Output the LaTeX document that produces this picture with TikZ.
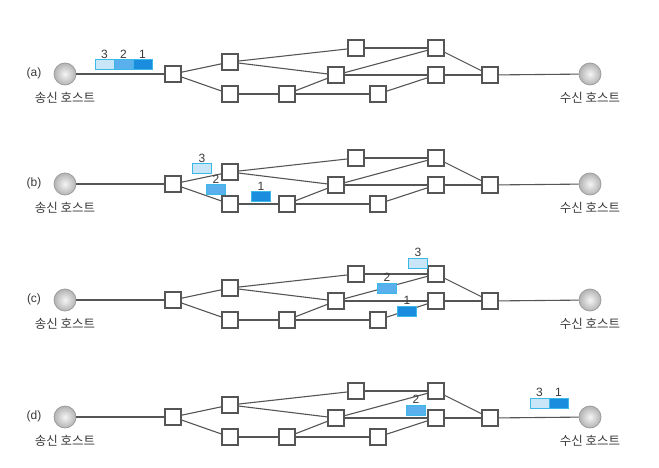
\documentclass[tikz,border=0pt]{standalone}
\usepackage{fontspec}
\setmainfont{Liberation Sans}
\newfontfamily\krfont{Noto Sans CJK KR}
\usepackage{xcolor}
\usetikzlibrary{positioning}
\definecolor{linegray}{HTML}{555555}
\definecolor{txtgray}{HTML}{3A3A3A}
\definecolor{pktedge}{HTML}{3CB8E8}
\definecolor{pktlight}{HTML}{C8E6F8}
\definecolor{pktmid}{HTML}{5AB0EC}
\definecolor{pktdark}{HTML}{1A8DDF}

\begin{document}
\begin{tikzpicture}[x=1pt, y=-1pt,
    router/.style={draw=linegray, line width=1.1pt, fill=white, minimum size=16pt, inner sep=0pt},
    host/.style={circle, draw=gray!80, line width=0.7pt, shading=radial, inner color=gray!8,
                 outer color=gray!60, minimum size=22pt, inner sep=0pt},
    link/.style={linegray, line width=1.1pt},
    pkt/.style={draw=pktedge, line width=1pt, minimum width=19pt, minimum height=10pt,
                inner sep=0pt, outer sep=0pt},
    num/.style={font=\fontsize{12}{12}\selectfont, text=txtgray, inner sep=0.5pt},
    hostlbl/.style={font=\krfont\fontsize{12.5}{12.5}\selectfont, text=txtgray, inner sep=1pt},
    rowlbl/.style={font=\fontsize{12}{12}\selectfont, text=txtgray, inner sep=1pt}]
  \useasboundingbox[fill=white] (0,0) rectangle (659,468);
  % one network per row
  \foreach \row/\y in {a/74, b/184, c/300, d/417} {
    \node[rowlbl] (l\row) at (34,\y-1) {(\row)};
    \node[host] (s\row) at (65,\y) {};
    \node[host] (t\row) at (590,\y) {};
    \node[hostlbl, below=6pt of s\row] (ls\row) {송신 호스트};
    \node[hostlbl, below=6pt of t\row] (lt\row) {수신 호스트};
    \node[router] (r1\row) at (173,\y) {};
    \node[router] (r2\row) at (230,\y-12) {};
    \node[router] (r3\row) at (230,\y+20) {};
    \node[router] (r4\row) at (287,\y+20) {};
    \node[router] (r5\row) at (336,\y+1) {};
    \node[router] (r6\row) at (356,\y-26) {};
    \node[router] (r7\row) at (436,\y-26) {};
    \node[router] (r8\row) at (436,\y+1) {};
    \node[router] (r9\row) at (378,\y+20) {};
    \node[router] (r10\row) at (490,\y+1) {};
    \draw[link] (s\row) -- (r1\row);
    \draw[link] (r1\row) -- (r2\row);
    \draw[link] (r1\row) -- (r3\row);
    \draw[link] (r2\row) -- (r6\row);
    \draw[link] (r2\row) -- (r5\row);
    \draw[link] (r3\row) -- (r4\row);
    \draw[link] (r4\row) -- (r5\row);
    \draw[link] (r4\row) -- (r9\row);
    \draw[link] (r5\row) -- (r7\row);
    \draw[link] (r5\row) -- (r8\row);
    \draw[link] (r6\row) -- (r7\row);
    \draw[link] (r9\row) -- (r8\row);
    \draw[link] (r7\row) -- (r10\row);
    \draw[link] (r8\row) -- (r10\row);
    \draw[link] (r10\row) -- (t\row);
  }
  % (a) packets leave the sender
  \node[pkt, fill=pktlight] (pa3) at (104.5,65) {};
  \node[pkt, fill=pktmid, right=0pt of pa3] (pa2) {};
  \node[pkt, fill=pktdark, right=0pt of pa2] (pa1) {};
  \node[num, above=1pt of pa3] (na3) {3};
  \node[num, above=1pt of pa2] (na2) {2};
  \node[num, above=1pt of pa1] (na1) {1};
  % (b) packets split up
  \node[pkt, fill=pktlight] (pb3) at (202,169) {};
  \node[pkt, fill=pktmid] (pb2) at (216,190) {};
  \node[pkt, fill=pktdark] (pb1) at (261,197) {};
  \node[num, above=1pt of pb3] (nb3) {3};
  \node[num, above=1pt of pb2] (nb2) {2};
  \node[num, above=1pt of pb1] (nb1) {1};
  % (c) packets on different routes
  \node[pkt, fill=pktlight] (pc3) at (418,263) {};
  \node[pkt, fill=pktmid] (pc2) at (387,288) {};
  \node[pkt, fill=pktdark] (pc1) at (407,311) {};
  \node[num, above=1pt of pc3] (nc3) {3};
  \node[num, above=1pt of pc2] (nc2) {2};
  \node[num, above=1pt of pc1] (nc1) {1};
  % (d) 3 and 1 arrive before 2
  \node[pkt, fill=pktmid] (pd2) at (416,410) {};
  \node[pkt, fill=pktlight] (pd3) at (539.5,403) {};
  \node[pkt, fill=pktdark, right=0pt of pd3] (pd1) {};
  \node[num, above=1pt of pd2] (nd2) {2};
  \node[num, above=1pt of pd3] (nd3) {3};
  \node[num, above=1pt of pd1] (nd1) {1};
\end{tikzpicture}
\end{document}
